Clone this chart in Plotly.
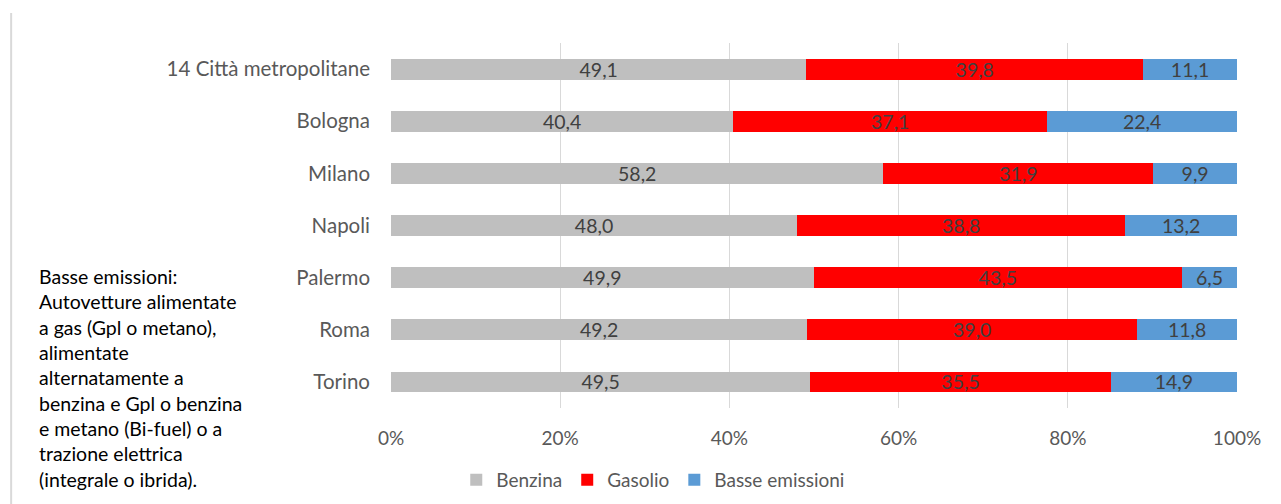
import plotly.graph_objects as go

# Categories (top to bottom) and shares by fuel type (%)
cities = ["14 Città metropolitane", "Bologna", "Milano", "Napoli", "Palermo", "Roma", "Torino"]
benzina = [49.1, 40.4, 58.2, 48.0, 49.9, 49.2, 49.5]
gasolio = [39.8, 37.1, 31.9, 38.8, 43.5, 39.0, 35.5]
basse = [11.1, 22.4, 9.9, 13.2, 6.5, 11.8, 14.9]
tick_vals = [0, 20, 40, 60, 80, 100]
tick_text = ["0%", "20%", "40%", "60%", "80%", "100%"]

note_lines = [
    "Basse emissioni:",
    "Autovetture alimentate",
    "a gas (Gpl o metano),",
    "alimentate",
    "alternatamente a",
    "benzina e Gpl o benzina",
    "e metano (Bi-fuel) o a",
    "trazione elettrica",
    "(integrale o ibrida).",
]

FONT = "Lato"
series = [
    ("Benzina", benzina, "#BFBFBF"),
    ("Gasolio", gasolio, "#FF0000"),
    ("Basse emissioni", basse, "#5B9BD5"),
]


def fmt(v):
    return f"{v:.1f}".replace(".", ",")


fig = go.Figure()
for name, vals, color in series:
    fig.add_trace(go.Bar(
        name=name,
        y=cities,
        x=vals,
        orientation="h",
        marker=dict(color=color, line=dict(width=0)),
        text=[fmt(v) for v in vals],
        textposition="inside",
        insidetextanchor="middle",
        constraintext="none",
        textfont=dict(family=FONT, size=19.5, color="#404040"),
        textangle=0,
    ))

fig.update_layout(
    barmode="stack",
    barnorm="percent",
    bargap=0.6,
    width=1281,
    height=504,
    margin=dict(l=391, r=44, t=43, b=96, autoexpand=False),
    paper_bgcolor="white",
    plot_bgcolor="white",
    font=dict(family=FONT, size=19, color="#595959"),
    xaxis=dict(
        range=[0, 100],
        tickvals=tick_vals,
        ticktext=tick_text,
        showgrid=True,
        gridcolor="#D9D9D9",
        gridwidth=1,
        zeroline=False,
        showline=False,
        ticks="",
        ticklabelstandoff=17,
        tickfont=dict(family=FONT, size=19, color="#595959"),
        fixedrange=True,
        automargin=False,
    ),
    yaxis=dict(
        categoryorder="array",
        categoryarray=cities[::-1],
        showgrid=False,
        zeroline=False,
        showline=False,
        ticks="",
        ticklabelstandoff=20,
        tickfont=dict(family=FONT, size=20.5, color="#595959"),
        fixedrange=True,
        automargin=False,
    ),
    legend=dict(
        orientation="h",
        x=0.31,
        xanchor="center",
        yref="container",
        y=0.048,
        yanchor="middle",
        font=dict(family=FONT, size=19, color="#595959"),
        traceorder="normal",
        itemwidth=30,
    ),
    showlegend=True,
)

# Explanatory note on the left
fig.add_annotation(
    xref="paper", yref="paper",
    x=-0.419, y=-0.233,
    xanchor="left", yanchor="bottom",
    align="left",
    showarrow=False,
    text="<br>".join(note_lines),
    font=dict(family=FONT, size=19.5, color="#000000"),
)

# Thin frame line at the left edge
fig.add_shape(
    type="line", xref="paper", yref="paper",
    x0=-0.449, x1=-0.449, y0=1.082, y1=-0.27,
    line=dict(color="#D9D9D9", width=2),
)

fig.write_html("out.html")
